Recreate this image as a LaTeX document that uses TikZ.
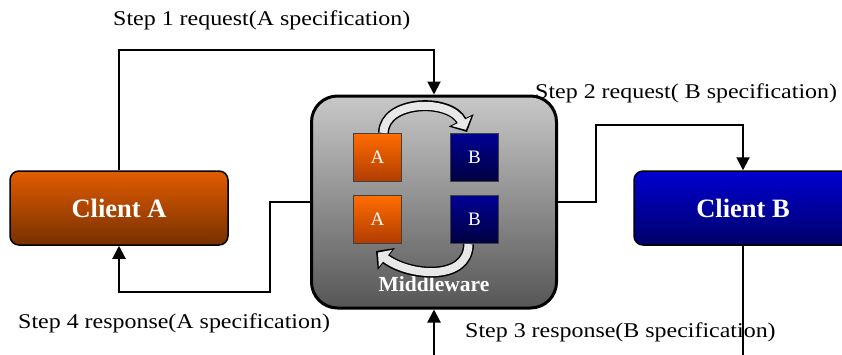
\documentclass[tikz,border=0pt]{standalone}
\usepackage{fontspec}
\setmainfont{Liberation Serif}
\newfontfamily\stepfont[FakeStretch=1.14]{Liberation Serif}
\usetikzlibrary{arrows.meta}

\definecolor{atop}{HTML}{E25C00}
\definecolor{abot}{HTML}{763000}
\definecolor{btop}{HTML}{0000D2}
\definecolor{bbot}{HTML}{00006A}
\definecolor{mwtop}{HTML}{C8C8C8}
\definecolor{mwbot}{HTML}{565656}
\definecolor{boxatop}{HTML}{FF6C00}
\definecolor{boxabot}{HTML}{B03C00}
\definecolor{boxbtop}{HTML}{000094}
\definecolor{boxbbot}{HTML}{000040}

\tikzset{
    client/.style={draw=black, line width=1.5pt, rounded corners=9pt,
        minimum width=218pt, minimum height=74pt, text=white,
        font=\bfseries\fontsize{26.5}{26.5}\selectfont},
    mware/.style={draw=black, line width=3pt, rounded corners=26pt,
        minimum width=245pt, minimum height=212pt,
        top color=mwtop, bottom color=mwbot},
    spec/.style={draw=black!75, line width=1.2pt, minimum size=48pt,
        text=white, font=\fontsize{19}{19}\selectfont},
    conn/.style={draw=black, line width=2pt, -{Triangle[length=13pt,width=13pt]}},
    steplabel/.style={anchor=west, inner sep=0pt, font=\stepfont\fontsize{21}{21}\selectfont},
    turnout/.style={line width=11pt, black, -{Triangle[length=13pt,width=27pt]}},
    turnin/.style={line width=8pt, white!82!gray, shorten >=2.5pt, -{Triangle[length=9.5pt,width=21pt]}},
}

\begin{document}
\begin{tikzpicture}[x=1pt, y=-1pt]
    \useasboundingbox (0,0) rectangle (842,354);
    \clip (0,0) rectangle (842,354);

    \node[client, top color=atop, bottom color=abot] (clientA) at (119,208) {Client A};
    \node[client, top color=btop, bottom color=bbot] (clientB) at (743,208) {Client B};
    \node[mware] (mw) at (434,202) {};
    \node[text=white, font=\bfseries\fontsize{21.5}{21.5}\selectfont] (mwlabel) at (434,284) {Middleware};

    \foreach \r/\y in {1/157.5,2/219.5}{
        \node[spec, top color=boxatop, bottom color=boxabot] (a\r) at (377.5,\y) {A};
        \node[spec, top color=boxbtop, bottom color=boxbbot] (b\r) at (474.5,\y) {B};
    }

    % turning arrows inside the middleware
    \draw[turnout] ([xshift=6pt]a1.north) .. controls (384,100) and (450,98) .. (467,132);
    \draw[turnin] ([xshift=6pt]a1.north) .. controls (384,100) and (450,98) .. (467,132);
    \draw[turnout] ([xshift=-6pt]b2.south) .. controls (468,282) and (408,276) .. (376,251);
    \draw[turnin] ([xshift=-6pt]b2.south) .. controls (468,282) and (408,276) .. (376,251);

    \coordinate (c1) at (434,50);
    \coordinate (c2) at (596,125);
    \coordinate (c3) at (743,380);
    \coordinate (c4) at (270,292);

    \draw[conn] (clientA.north) |- (c1) -- (mw.north);
    \draw[conn] (mw.east) -| (c2) -| (clientB.north);
    \draw[conn] (mw.west) -| (c4) -| (clientA.south);

    \node[steplabel] (s1) at (113,20) {Step 1 request(A specification)};
    \node[steplabel] (s2) at (535,93) {Step 2 request( B specification)};
    \node[steplabel] (s3) at (465,332) {Step 3 response(B specification)};
    \node[steplabel] (s4) at (18,323) {Step 4 response(A specification)};

    \draw[conn] (clientB.south) -- (c3) -| (mw.south);
\end{tikzpicture}
\end{document}
